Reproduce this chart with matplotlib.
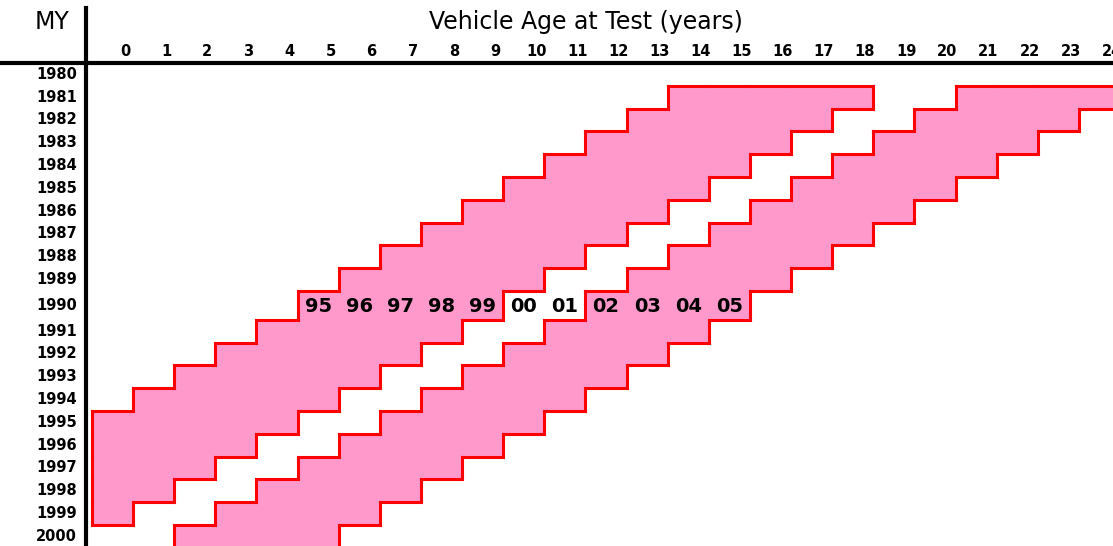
import matplotlib.pyplot as plt
import numpy as np
from matplotlib.lines import Line2D

# model years (rows) and vehicle ages (columns)
model_years = list(range(1980, 2001))
ages = list(range(0, 25))
# test years covered by the two shaded bands
band1 = list(range(1995, 2000))
band2 = list(range(2002, 2006))
first_my = 1981
# two digit test year labels written along the 1990 row
label_my = 1990
label_tests = ['95', '96', '97', '98', '99', '00', '01', '02', '03', '04', '05']
label_ages = list(range(5, 16))

pink = '#FF99CC'
red = '#FF0000'

# row heights (1990 row is a bit taller)
row_h = np.array([1.26 if m == label_my else 1.0 for m in model_years])
row_top = np.concatenate([[0], np.cumsum(row_h)[:-1]])

# which cells are shaded
nr, nc = len(model_years), len(ages)
on = np.zeros((nr, nc), dtype=bool)
for i, m in enumerate(model_years):
    for j, a in enumerate(ages):
        t = m + a
        if m >= first_my and (t in band1 or t in band2):
            on[i, j] = True

fig = plt.figure(figsize=(11.13, 5.46), dpi=100)
W, H = 1113, 546
ax = fig.add_axes([86 / W, 0, 1 - 86 / W, 1 - 63 / H])

for i in range(nr):
    for j in range(nc):
        if on[i, j]:
            ax.add_patch(plt.Rectangle((j, row_top[i]), 1, row_h[i],
                                       facecolor=pink, edgecolor='none'))

# outline: every edge between a shaded and an unshaded cell
def cell(i, j):
    if 0 <= i < nr and 0 <= j < nc:
        return on[i, j]
    return False

segs = []
for i in range(nr):
    y0, y1 = row_top[i], row_top[i] + row_h[i]
    for j in range(nc):
        if not on[i, j]:
            continue
        if not cell(i - 1, j):
            segs.append([(j, y0), (j + 1, y0)])
        if not cell(i + 1, j) and i + 1 < nr:
            segs.append([(j, y1), (j + 1, y1)])
        if not cell(i, j - 1):
            segs.append([(j, y0), (j, y1)])
        if not cell(i, j + 1):
            segs.append([(j + 1, y0), (j + 1, y1)])
for s in segs:
    ax.plot([s[0][0], s[1][0]], [s[0][1], s[1][1]], color=red, lw=2.2,
            solid_capstyle='projecting')

for lab, a in zip(label_tests, label_ages):
    i = model_years.index(label_my)
    ax.text(a + 0.5, row_top[i] + row_h[i] / 2 + 0.03, lab, ha='center', va='center',
            fontsize=14, fontweight='bold', family='DejaVu Sans')

ax.set_xlim(-0.146, 24.83)
ax.set_ylim((546 - 63) / 22.8, 0)
ax.axis('off')

for i, m in enumerate(model_years):
    ax.text(-0.37, row_top[i] + row_h[i] / 2, str(m), ha='right', va='center',
            fontsize=10.5, fontweight='bold', clip_on=False)
for a in ages:
    ax.text(a + 0.8, -0.5, str(a), ha='center', va='center',
            fontsize=10.5, fontweight='bold', clip_on=False)

fig.add_artist(Line2D([0, 1], [1 - 63 / H, 1 - 63 / H], color='black', lw=3,
                      transform=fig.transFigure))
fig.add_artist(Line2D([86 / W, 86 / W], [0, 1 - 8 / H], color='black', lw=3,
                      transform=fig.transFigure))

fig.text(52 / W, 1 - 22 / H, 'MY', ha='center', va='center', fontsize=17,
         family='DejaVu Sans')
fig.text(586 / W, 1 - 22 / H, 'Vehicle Age at Test (years)', ha='center',
         va='center', fontsize=17, family='DejaVu Sans')

fig.savefig('out.png', dpi=100)
